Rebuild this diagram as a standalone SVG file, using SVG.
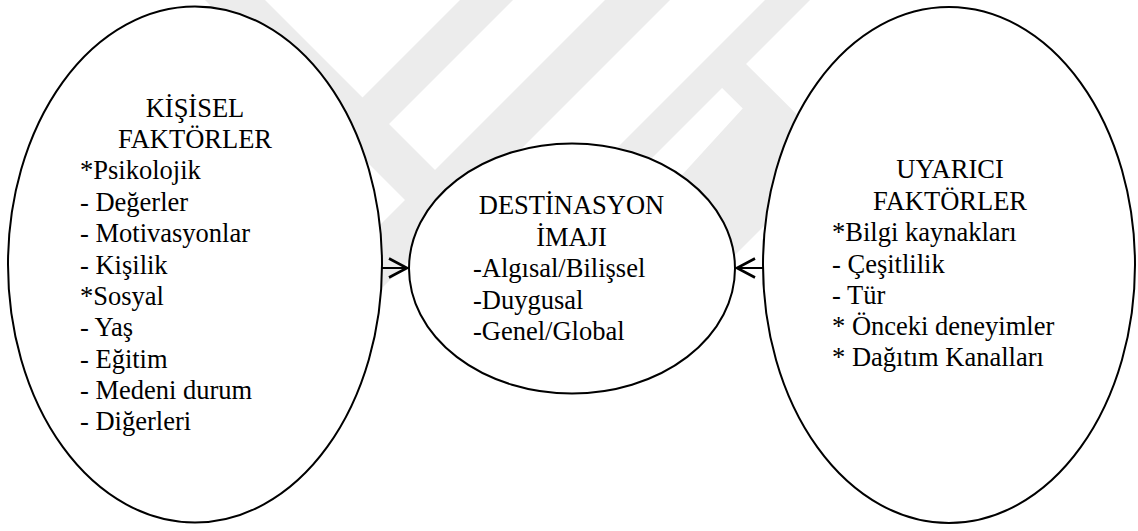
<svg xmlns="http://www.w3.org/2000/svg" width="1138" height="531" viewBox="0 0 1138 531">
  <style>
    .wm { fill: #ececec; stroke: none; }
    .node { fill: #ffffff; stroke: #000000; stroke-width: 2; }
    .t { font-family: "Liberation Serif", "Times New Roman", serif; font-size: 26.5px; fill: #000000; }
    .c { text-anchor: middle; }
    .conn { stroke: #000000; stroke-width: 2; fill: none; }
  </style>
  <defs>
    <marker id="arrow" viewBox="0 0 20 20" refX="19" refY="10" markerWidth="20" markerHeight="20" markerUnits="userSpaceOnUse" orient="auto" overflow="visible">
      <path d="M1,0.5 L19,10 L1,19.5" fill="none" stroke="#000000" stroke-width="2.6"/>
    </marker>
  </defs>
  <rect x="0" y="0" width="1138" height="531" fill="#ffffff"/>
  <g id="watermark">
    <polygon class="wm" points="200,-5 260,-5 565,300 505,300"/>
    <polygon class="wm" points="465,-5 518,-5 213,300 160,300"/>
    <polygon class="wm" points="610,-5 675,-5 370,300 305,300"/>
    <polygon class="wm" points="770,-5 815,-5 515,295 470,295"/>
    <polygon class="wm" points="712,78 736,54 883,200 835,200"/>
    <polygon class="wm" points="755,95 825,165 690,300 560,300 650,210"/>
  </g>
  <g id="node-kisisel">
    <ellipse class="node" cx="195" cy="264.5" rx="187" ry="258"/>
    <text class="t c" x="195" y="116.7">KİŞİSEL</text>
    <text class="t c" x="195" y="148">FAKTÖRLER</text>
    <text class="t" x="80" y="179.4">*Psikolojik</text>
    <text class="t" x="80" y="210.8">- Değerler</text>
    <text class="t" x="80" y="242.1">- Motivasyonlar</text>
    <text class="t" x="80" y="273.5">- Kişilik</text>
    <text class="t" x="80" y="304.8">*Sosyal</text>
    <text class="t" x="80" y="336.2">- Yaş</text>
    <text class="t" x="80" y="367.5">- Eğitim</text>
    <text class="t" x="80" y="398.9">- Medeni durum</text>
    <text class="t" x="80" y="430.2">- Diğerleri</text>
  </g>
  <g id="node-destinasyon">
    <ellipse class="node" cx="572" cy="268.5" rx="163" ry="125"/>
    <text class="t c" x="571.5" y="214">DESTİNASYON</text>
    <text class="t c" x="571.5" y="245.5">İMAJI</text>
    <text class="t" x="473" y="277.3">-Algısal/Bilişsel</text>
    <text class="t" x="473" y="308.5">-Duygusal</text>
    <text class="t" x="473" y="339.5">-Genel/Global</text>
  </g>
  <g id="node-uyarici">
    <ellipse class="node" cx="949" cy="265" rx="186" ry="258"/>
    <text class="t c" x="950" y="178">UYARICI</text>
    <text class="t c" x="950" y="209.5">FAKTÖRLER</text>
    <text class="t" x="832" y="241">*Bilgi kaynakları</text>
    <text class="t" x="832" y="272.5">- Çeşitlilik</text>
    <text class="t" x="832" y="303.7">- Tür</text>
    <text class="t" x="832" y="335">* Önceki deneyimler</text>
    <text class="t" x="832" y="366.3">* Dağıtım Kanalları</text>
  </g>
  <g id="connectors">
    <line class="conn" x1="382" y1="268" x2="407" y2="268" marker-end="url(#arrow)"/>
    <line class="conn" x1="763" y1="268" x2="737" y2="268" marker-end="url(#arrow)"/>
  </g>
</svg>
